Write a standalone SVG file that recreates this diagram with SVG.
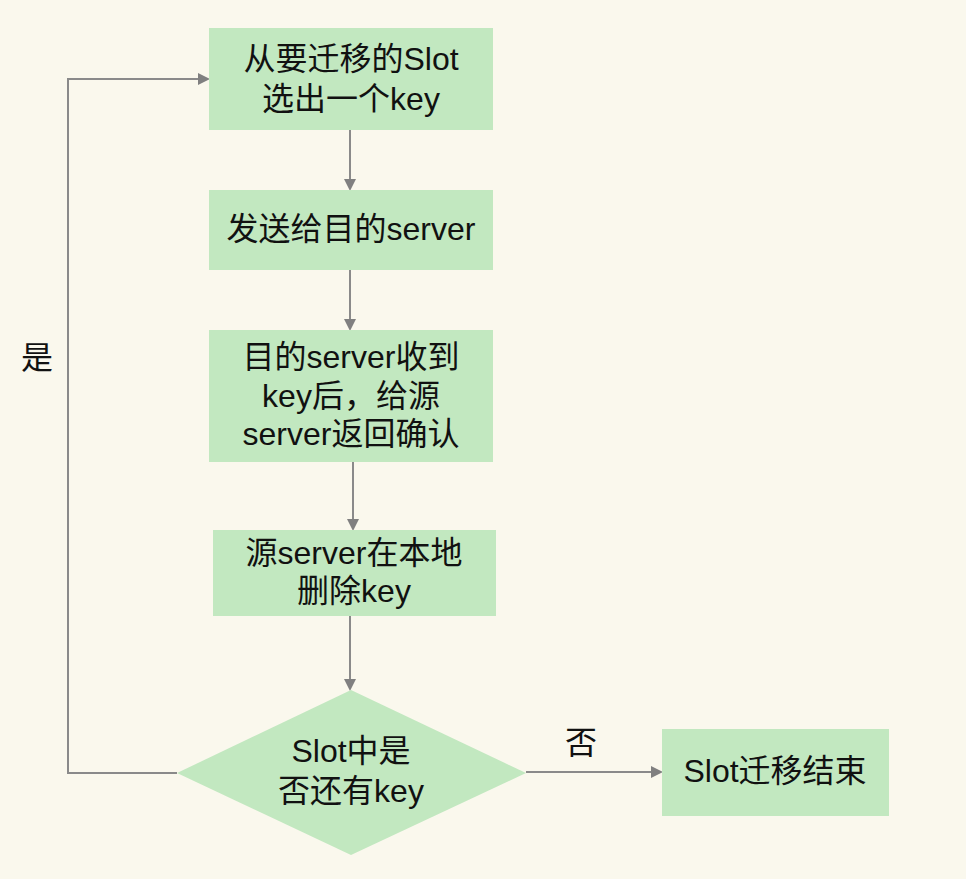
<svg xmlns="http://www.w3.org/2000/svg" width="966" height="879" viewBox="0 0 966 879">
<style>
.n{fill:#c2e8c0}
.t{font-family:"Liberation Sans","Noto Sans CJK SC",sans-serif;font-size:32px;fill:#111;text-anchor:middle;dominant-baseline:central}
.c{stroke:#8a8a8a;stroke-width:2;fill:none}
</style>
<defs>
<marker id="ah" markerWidth="12" markerHeight="12" refX="10" refY="6" orient="auto" markerUnits="userSpaceOnUse">
<path d="M0,0 L12,6 L0,12 Z" fill="#808080"/>
</marker>
</defs>
<rect width="966" height="879" fill="#faf8ed"/>
<g id="connectors">
<line class="c" x1="350" y1="130" x2="350" y2="189" marker-end="url(#ah)"/>
<line class="c" x1="350" y1="270" x2="350" y2="329" marker-end="url(#ah)"/>
<line class="c" x1="353" y1="462" x2="353" y2="529" marker-end="url(#ah)"/>
<line class="c" x1="350" y1="616" x2="350" y2="689" marker-end="url(#ah)"/>
<line class="c" x1="526" y1="772" x2="661" y2="772" marker-end="url(#ah)"/>
<polyline class="c" points="177,773 68,773 68,79 208,79" marker-end="url(#ah)"/>
<text class="t" x="581" y="743">否</text>
<text class="t" x="37" y="358">是</text>
</g>
<g id="n1">
<rect class="n" x="209" y="28" width="284" height="102"/>
<text class="t" x="351" y="59">从要迁移的Slot</text>
<text class="t" x="351" y="99">选出一个key</text>
</g>
<g id="n2">
<rect class="n" x="209" y="190" width="284" height="80"/>
<text class="t" x="351" y="229">发送给目的server</text>
</g>
<g id="n3">
<rect class="n" x="209" y="330" width="284" height="132"/>
<text class="t" x="351" y="357">目的server收到</text>
<text class="t" x="351" y="396">key后，给源</text>
<text class="t" x="351" y="434">server返回确认</text>
</g>
<g id="n4">
<rect class="n" x="213" y="530" width="283" height="86"/>
<text class="t" x="354" y="553">源server在本地</text>
<text class="t" x="354" y="591">删除key</text>
</g>
<g id="n5">
<polygon class="n" points="351,690 526,773 351,855 177,773"/>
<text class="t" x="351" y="751">Slot中是</text>
<text class="t" x="351" y="791">否还有key</text>
</g>
<g id="n6">
<rect class="n" x="662" y="729" width="227" height="87"/>
<text class="t" x="775" y="771">Slot迁移结束</text>
</g>
</svg>
